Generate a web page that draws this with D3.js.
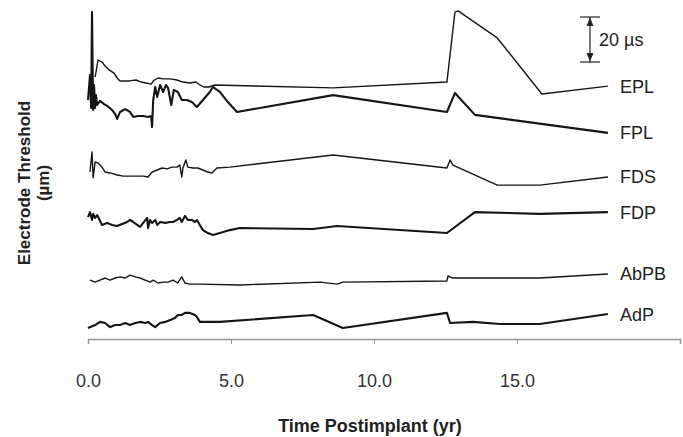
<!DOCTYPE html>
<html><head><meta charset="utf-8">
<script src="https://cdn.jsdelivr.net/npm/d3@7"></script>
<style>
html,body{margin:0;padding:0;background:#fff;}
svg{display:block;font-family:"Liberation Sans",Arial,sans-serif;}
</style></head>
<body><svg id="c" width="683" height="437"></svg>
<script>
// ---- data (time in years, threshold value incl. display offset, in µs units) ----
const seriesNames = ["EPL","FPL","FDS","FDP","AbPB","AdP"];
const xTicks = [0,5,10,15];
const scaleBarValue = 20;

const EPL = [[0.25,116.4],[0.35,124.0],[0.49,123.1],[0.60,121.3],[0.74,119.6],[0.91,118.2],[1.02,116.0],[1.12,114.7],[1.44,114.7],[1.68,115.1],[1.86,114.2],[2.03,113.8],[2.21,113.3],[2.31,115.1],[2.45,116.0],[2.63,115.6],[2.87,115.6],[3.11,115.1],[3.32,114.2],[3.56,113.8],[3.77,114.2],[3.91,112.9],[4.05,112.0],[4.23,112.0],[4.44,112.9],[8.57,111.6],[12.55,114.2],[12.83,145.3],[12.94,145.8],[14.31,133.8],[15.87,108.9],[18.18,112.4]];
const FPL = [[0.00,106.2],[0.07,117.3],[0.11,102.7],[0.14,145.3],[0.18,101.8],[0.21,112.9],[0.25,102.7],[0.28,108.4],[0.32,104.0],[0.42,105.8],[0.56,104.4],[0.67,103.6],[0.84,101.8],[0.95,100.0],[1.02,97.8],[1.12,100.9],[1.30,102.2],[1.47,100.9],[1.58,98.7],[1.75,99.1],[1.93,99.1],[2.10,98.7],[2.21,99.1],[2.24,94.2],[2.28,106.2],[2.35,112.0],[2.42,107.6],[2.52,112.9],[2.63,109.8],[2.73,112.9],[2.80,111.6],[2.91,104.0],[3.00,110.7],[3.14,109.8],[3.28,106.2],[3.46,106.2],[3.63,105.3],[3.81,103.1],[4.02,106.2],[4.26,109.8],[4.37,112.0],[4.61,109.8],[4.89,105.3],[5.21,100.9],[6.01,102.7],[8.57,108.4],[12.55,100.9],[12.83,109.3],[13.53,99.6],[18.18,91.6]];
const FDS = [[0.07,74.2],[0.14,83.1],[0.18,71.6],[0.25,78.7],[0.35,78.2],[0.49,76.4],[0.60,74.2],[0.77,73.8],[1.02,72.9],[1.23,72.4],[1.47,72.4],[1.72,72.4],[1.93,72.4],[2.10,72.0],[2.24,74.2],[2.42,75.1],[2.59,76.0],[2.77,75.6],[2.93,76.4],[3.11,76.4],[3.21,77.3],[3.28,72.0],[3.32,76.0],[3.42,79.6],[3.49,76.4],[3.67,76.0],[3.84,76.0],[4.02,75.1],[4.19,74.2],[4.33,73.8],[4.51,76.0],[4.96,76.4],[8.57,81.8],[12.55,76.0],[12.66,79.6],[12.76,77.3],[14.31,68.4],[15.80,68.4],[18.18,72.0]];
const FDP = [[0.00,54.2],[0.07,56.4],[0.14,52.9],[0.18,55.6],[0.25,53.8],[0.32,55.1],[0.49,50.7],[0.67,51.6],[0.84,50.7],[1.02,50.2],[1.19,51.1],[1.37,52.0],[1.47,52.9],[1.58,52.0],[1.72,50.7],[1.82,49.8],[1.93,51.6],[2.07,53.8],[2.10,49.3],[2.17,52.9],[2.24,51.6],[2.35,52.9],[2.42,50.7],[2.52,52.0],[2.70,51.6],[2.87,52.0],[2.97,52.0],[3.11,52.9],[3.21,53.8],[3.28,52.0],[3.39,54.7],[3.49,52.9],[3.63,52.9],[3.74,52.0],[3.81,52.9],[3.91,50.7],[4.02,48.4],[4.19,47.1],[4.37,46.2],[4.61,47.1],[4.96,48.4],[5.31,49.3],[7.87,48.9],[8.71,50.2],[12.55,47.1],[13.53,56.4],[15.80,55.6],[18.18,56.4]];
const AbPB = [[0.07,26.2],[0.25,25.3],[0.42,26.2],[0.60,27.1],[0.77,26.2],[0.95,27.1],[1.12,27.6],[1.30,27.1],[1.47,28.4],[1.65,27.6],[1.82,27.1],[2.00,26.2],[2.17,25.3],[2.28,26.2],[2.45,24.9],[2.63,25.3],[2.80,25.3],[2.97,26.2],[3.14,24.9],[3.28,27.6],[3.39,24.9],[3.56,24.4],[3.91,24.4],[5.31,24.0],[8.12,25.3],[8.71,24.4],[8.91,25.3],[12.55,25.8],[12.59,28.0],[12.76,27.1],[15.80,27.1],[18.18,28.9]];
const AdP = [[0.00,4.9],[0.25,6.2],[0.42,7.6],[0.60,7.1],[0.77,5.3],[0.95,6.2],[1.12,6.2],[1.30,7.1],[1.47,6.2],[1.65,7.1],[1.82,7.6],[2.00,7.1],[2.10,7.6],[2.24,6.2],[2.35,5.3],[2.52,7.1],[2.70,7.6],[2.87,8.4],[3.04,9.3],[3.14,10.7],[3.28,10.7],[3.39,11.6],[3.56,11.6],[3.74,10.7],[3.81,9.8],[3.91,7.6],[4.61,7.6],[7.87,10.7],[8.91,4.9],[12.55,11.6],[12.66,7.1],[13.46,7.6],[14.41,6.7],[15.80,6.7],[18.18,11.1]];
const seriesData = [EPL,FPL,FDS,FDP,AbPB,AdP];
const seriesBold = [false,true,false,true,false,true];

// ---- drawing ----
const svg = d3.select("#c");
const x = d3.scaleLinear().domain([0,20.7]).range([88,680]);
const y = d3.scaleLinear().domain([0,150]).range([339,1.5]);

const line = d3.line().x(d=>x(d[0])).y(d=>y(d[1]));
seriesData.forEach((s,i)=>{
  svg.append("path").datum(s).attr("d",line)
    .attr("fill","none").attr("stroke","#151515")
    .attr("stroke-width", seriesBold[i]?2.1:1.4)
    .attr("stroke-linejoin","round");
  const last = s[s.length-1];
  svg.append("text").attr("x",620).attr("y",y(last[1])).attr("dy","0.36em")
    .attr("font-size",18).attr("fill","#222").text(seriesNames[i]);
});

// x axis
const ax = svg.append("g").attr("transform","translate(0,339)")
  .call(d3.axisBottom(x).tickValues(xTicks).tickFormat(d3.format(".1f")).tickSize(5).tickPadding(30));
ax.select(".domain").attr("stroke","#999").attr("stroke-width",1.5);
ax.selectAll(".tick line").attr("stroke","#999");
ax.selectAll(".tick text").attr("font-size",18).attr("fill","#333")
  .attr("font-family","Liberation Sans, Arial, sans-serif");

svg.append("text").attr("x",370).attr("y",426).attr("dy","0.36em")
  .attr("text-anchor","middle").attr("font-weight","bold").attr("font-size",18).attr("fill","#222")
  .text("Time Postimplant (yr)");

// y axis title
const yt = svg.append("text").attr("transform","translate(24,183) rotate(-90)")
  .attr("text-anchor","middle").attr("font-weight","bold").attr("font-size",17).attr("fill","#222");
yt.append("tspan").attr("x",0).attr("dy","0.36em").text("Electrode Threshold");
yt.append("tspan").attr("x",0).attr("dy","1.1em").text("(µm)");

// scale bar
const sbX = 590, sbBottom = 123.1, sbTop = sbBottom + scaleBarValue;
const y1 = y(sbTop), y2 = y(sbBottom);
const sb = svg.append("g").attr("stroke","#222").attr("fill","#222");
sb.append("line").attr("x1",sbX).attr("x2",sbX).attr("y1",y1).attr("y2",y2).attr("stroke-width",1.2);
sb.append("line").attr("x1",sbX-10).attr("x2",sbX+10).attr("y1",y1).attr("y2",y1).attr("stroke-width",1.2);
sb.append("line").attr("x1",sbX-10).attr("x2",sbX+10).attr("y1",y2).attr("y2",y2).attr("stroke-width",1.2);
sb.append("path").attr("stroke","none").attr("d",`M${sbX},${y1+0.5} L${sbX-3.5},${y1+9} L${sbX+3.5},${y1+9} Z`);
sb.append("path").attr("stroke","none").attr("d",`M${sbX},${y2-0.5} L${sbX-3.5},${y2-9} L${sbX+3.5},${y2-9} Z`);
svg.append("text").attr("x",599).attr("y",(y1+y2)/2).attr("dy","0.36em")
  .attr("font-size",18).attr("fill","#222").text(scaleBarValue + " µs");
</script></body></html>
